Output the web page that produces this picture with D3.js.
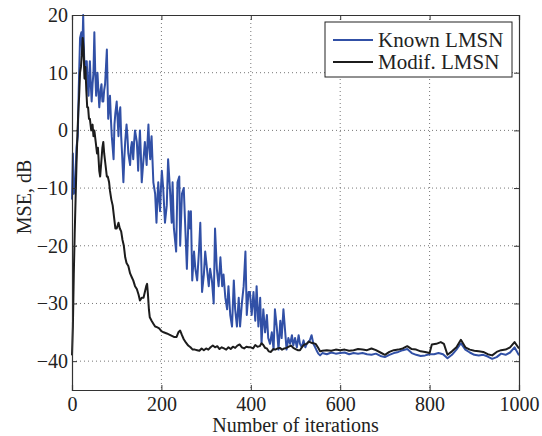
<!DOCTYPE html>
<html>
<head>
<meta charset="utf-8">
<script src="https://cdn.jsdelivr.net/npm/d3@7"></script>
<style>
  body { margin: 0; background: #fff; }
  svg text { font-family: "Liberation Serif", "Times New Roman", serif; fill: #222; }
</style>
</head>
<body>
<svg id="chart" width="542" height="436"></svg>
<script>
// ---- Data ----
const xTicks = [0, 200, 400, 600, 800, 1000];
const yTicks = [-40, -30, -20, -10, 0, 10, 20];
const seriesNames = ["Known LMSN", "Modif. LMSN"];

const knownIter = [0,2,4,7,10,13,15,18,21,23,25,27,29,31,33,35,37,40,42,44,46,48,50,52,54,57,59,61,64,66,68,70,72,74,76,78,80,81,83,85,87,89,91,93,95,97,100,102,104,106,108,110,112,115,117,119,122,124,126,128,130,132,134,136,137,139,141,143,145,147,148,150,152,154,156,158,160,163,165,167,169,171,173,175,177,178,180,182,184,186,189,191,193,195,197,199,201,204,208,212,215,219,223,225,228,233,236,240,242,246,250,253,257,261,264,266,269,273,276,280,284,287,291,295,298,302,306,309,313,317,320,324,328,332,336,339,343,347,350,354,358,362,365,369,373,376,380,384,388,391,395,398,402,406,410,413,417,421,424,428,432,436,439,443,447,451,454,458,462,466,469,473,477,480,484,488,492,495,499,503,507,510,514,518,522,525,532,536,540,544,547,551,555,560,570,580,590,600,610,620,630,640,650,660,670,680,690,700,710,720,730,740,750,760,770,780,790,800,810,820,830,840,850,860,870,880,890,900,910,920,930,940,950,960,970,980,990,1000];
const knownMSE = [-12,-4,-11,-10,-3,-1,7,16,17,13,20,13,9,12,12,8,6,12,8,5,8,10,17,10,6,10,7,4,7,8,5,5,7,8,11,14,6,2,4,6,2,-1,-3,-5,1,3,5,2,-1,3,4,-1,-4,-9,-5,-2,1,-1,-4,-5,-6,-3,-2,-4,-5,-2,0,-1,-2,-5,-7,-3,0,-4,-9,-7,-5,-2,-4,-6,-2,1,-3,-5,-2,-1,-5,-9,-10,-11,-16,-12,-9,-12,-14,-10,-7,-10,-16,-13,-5,-10,-16,-9,-17,-21,-9,-8,-20,-11,-10,-16,-24,-14,-17,-14,-26,-21,-24,-26,-21,-16,-28,-25,-21,-24,-27,-24,-26,-30,-17,-24,-27,-22,-27,-25,-29,-31,-27,-32,-34,-26,-31,-34,-29,-34,-30,-27,-21,-32,-28,-28,-32,-28,-33,-27,-34,-29,-37,-31,-35,-32,-36,-37,-35,-38,-31,-34,-38,-33,-36,-31,-35,-38,-36,-37,-35.5,-37.3,-36,-37.6,-35.5,-37,-37.6,-36.4,-37.6,-37,-36.4,-35.5,-37,-37.6,-38.1,-38.7,-39,-38.6,-38.8,-38.5,-38.7,-38.6,-38.5,-38.8,-38.6,-38.7,-38.6,-38.8,-38.9,-38.7,-39.1,-39.3,-38.9,-38.6,-38.4,-38.1,-37.9,-38.6,-38.9,-39.1,-39.0,-38.8,-38.8,-38.6,-38.8,-39.5,-38.9,-38.0,-36.9,-38.0,-38.5,-38.9,-39.0,-38.9,-39.2,-39.6,-39.3,-38.7,-38.9,-38.5,-37.6,-39];

const modifIter = [0,2,4,6,8,10,12,14,16,18,20,22,24,26,28,30,32,34,36,38,40,43,46,48,50,53,56,58,61,63,66,68,70,72,75,78,80,83,85,88,91,94,97,100,104,107,110,113,116,119,122,126,130,134,137,141,145,149,152,156,160,163,166,168,170,172,174,178,182,186,190,195,200,205,212,220,228,234,238,242,246,250,255,260,265,270,275,280,285,290,295,300,305,310,315,320,325,330,335,340,345,350,355,360,365,370,375,380,385,390,395,400,405,410,415,420,424,428,432,436,440,445,450,455,460,465,470,475,480,485,490,495,500,505,510,515,520,525,530,535,540,545,550,555,560,570,580,590,600,610,620,630,640,650,660,670,680,690,700,710,720,730,740,750,760,770,780,790,800,805,815,825,832,840,850,860,870,880,890,900,910,920,930,940,950,960,970,980,990,1000];
const modifMSE = [-39,-34,-25,-18,-12,-6,-1,3,6,10,11,13,16,14,9,11,7,4,4,2,2,0,1,-1,0,-2,-4,-3,-7,-8,-5,-3,-2,-4,-6,-8,-8,-9,-10.5,-12,-13,-15,-17,-17,-16,-17,-17.5,-19,-20,-22,-23,-23.5,-24.8,-25.5,-26,-27,-27.5,-28.5,-29.5,-29,-29,-28,-27,-26.6,-28.5,-31,-32.4,-33,-33.5,-34,-34.1,-34.3,-34.8,-35,-35.2,-35.5,-35.8,-35.8,-35,-34.7,-35.5,-36.2,-36.8,-37.3,-37.6,-38,-38,-38.1,-38.2,-37.8,-38.1,-37.8,-38,-37.6,-37.3,-37.6,-37.4,-37.9,-37.6,-37.8,-38,-37.6,-37.9,-37.5,-37.7,-37.3,-37.1,-37.6,-37.8,-37.5,-37.6,-37.6,-37.8,-37.2,-37.5,-37.4,-36.9,-37.2,-37.7,-37.8,-38.3,-38.4,-37.9,-38,-37.8,-37.7,-38,-37.8,-37.7,-37.5,-37.3,-37.7,-37.9,-38.1,-38.1,-37.5,-37.1,-37,-36.6,-36.8,-36.9,-37,-37.6,-38.3,-38.2,-38.1,-38.2,-38.0,-38.1,-38.0,-38.2,-38.1,-37.9,-38.0,-38.1,-37.8,-38.1,-38.5,-38.9,-38.4,-38.1,-38.0,-37.8,-37.4,-37.9,-38.0,-38.3,-38.4,-38.6,-37.1,-37.0,-36.7,-37.0,-38.9,-38.3,-37.6,-36.3,-37.6,-38.0,-38.2,-38.3,-38.4,-38.8,-39.0,-38.4,-38.1,-38.0,-37.6,-36.7,-37.8];

// ---- Layout ----
const svg = d3.select("#chart");
const plotL = 72, plotR = 519, plotT = 15, plotB = 390;
const x = d3.scaleLinear().domain([0, 1000]).range([plotL, plotR]);
const y = d3.scaleLinear().domain([-45, 20]).range([plotB, plotT]);
const colors = ["#3150a6", "#1c1c1c"];
const fontSize = 20;

// grid
const grid = svg.append("g");
grid.selectAll("line.gx").data(xTicks.filter(t => t > 0 && t < 1000)).enter().append("line")
  .attr("x1", d => x(d)).attr("x2", d => x(d)).attr("y1", plotT).attr("y2", plotB)
  .attr("stroke", "#777").attr("stroke-width", 1).attr("stroke-dasharray", "1,3");
grid.selectAll("line.gy").data(yTicks.filter(t => t < 20)).enter().append("line")
  .attr("y1", d => y(d)).attr("y2", d => y(d)).attr("x1", plotL).attr("x2", plotR)
  .attr("stroke", "#777").attr("stroke-width", 1).attr("stroke-dasharray", "1,3");

// lines
const makeLine = (xs, ys) => d3.line().x((d, i) => x(xs[i])).y((d, i) => y(ys[i]))(ys);
const plot = svg.append("g");
plot.append("path").attr("d", makeLine(knownIter, knownMSE))
  .attr("fill", "none").attr("stroke", colors[0]).attr("stroke-width", 2).attr("stroke-linejoin", "round");
plot.append("path").attr("d", makeLine(modifIter, modifMSE))
  .attr("fill", "none").attr("stroke", colors[1]).attr("stroke-width", 2).attr("stroke-linejoin", "round");

// axes (ticks inward on all four sides)
const tickLen = 5;
const axB = svg.append("g").attr("transform", `translate(0,${plotB})`)
  .call(d3.axisBottom(x).tickValues(xTicks).tickSize(-tickLen).tickFormat(d3.format("d")));
const axT = svg.append("g").attr("transform", `translate(0,${plotT})`)
  .call(d3.axisTop(x).tickValues(xTicks).tickSize(-tickLen).tickFormat(""));
const axL = svg.append("g").attr("transform", `translate(${plotL},0)`)
  .call(d3.axisLeft(y).tickValues(yTicks).tickSize(-tickLen).tickPadding(4)
    .tickFormat(d => d < 0 ? "\u2212" + Math.abs(d) : String(d)));
const axR = svg.append("g").attr("transform", `translate(${plotR},0)`)
  .call(d3.axisRight(y).tickValues(yTicks).tickSize(-tickLen).tickFormat(""));
[axB, axT, axL, axR].forEach(a => {
  a.select(".domain").attr("stroke", "#333").attr("stroke-width", 1.2);
  a.selectAll(".tick line").attr("stroke", "#333");
  a.selectAll("text").attr("font-family", "Liberation Serif, Times New Roman, serif")
    .attr("font-size", fontSize).attr("fill", "#222");
});
axB.selectAll(".tick text").attr("y", 21).attr("dy", 0);

// axis titles
svg.append("text").attr("x", (plotL + plotR) / 2).attr("y", 431.5)
  .attr("text-anchor", "middle").attr("font-size", fontSize).text("Number of iterations");
svg.append("text").attr("transform", "translate(31,197) rotate(-90)")
  .attr("text-anchor", "middle").attr("font-size", fontSize).text("MSE, dB");

// legend
const lg = svg.append("g");
lg.append("rect").attr("x", 325).attr("y", 22).attr("width", 187).attr("height", 55)
  .attr("fill", "#fff").attr("stroke", "#222").attr("stroke-width", 1);
seriesNames.forEach((name, i) => {
  const cy = 40 + i * 22;
  lg.append("line").attr("x1", 333).attr("x2", 373).attr("y1", cy).attr("y2", cy)
    .attr("stroke", colors[i]).attr("stroke-width", 2);
  lg.append("text").attr("x", 378).attr("y", cy).attr("dy", "0.33em")
    .attr("font-size", 21).text(name);
});
</script>
</body>
</html>
